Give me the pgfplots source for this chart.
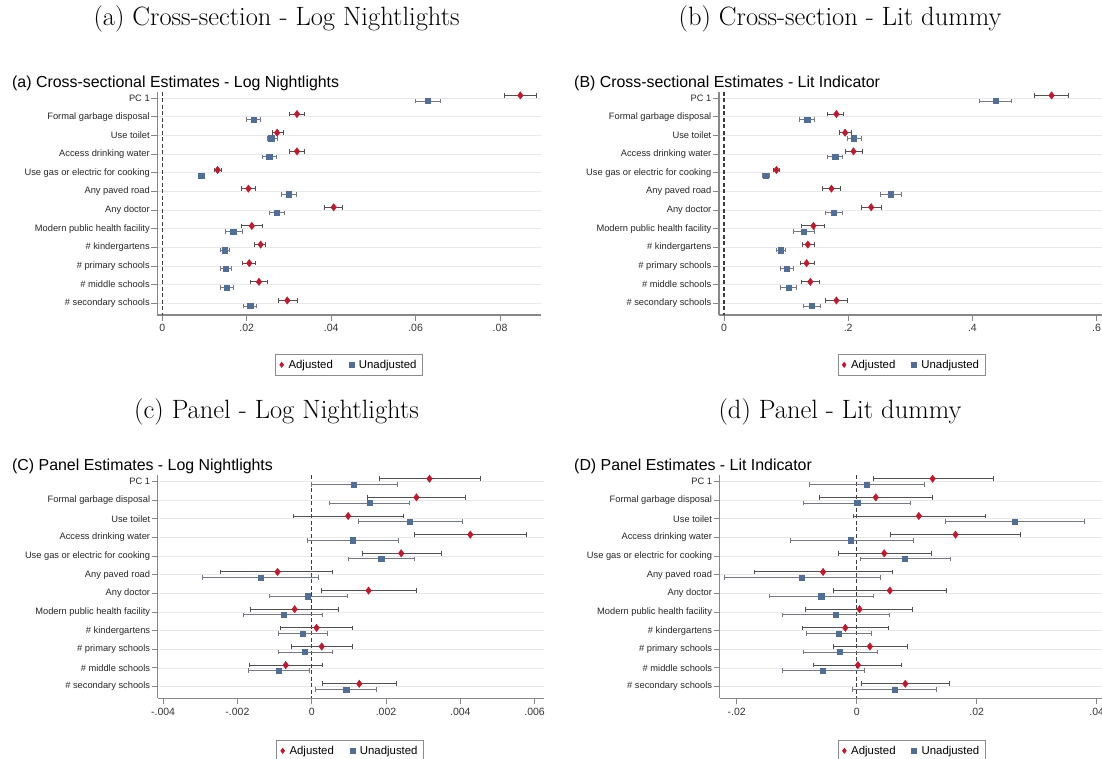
\documentclass[border=0pt]{standalone}
\usepackage{fontspec}
\usepackage{pgfplots}
\usepackage{pgfplotstable}
\pgfplotsset{compat=1.18}
\newfontfamily\arial{Liberation Sans}

\definecolor{adjred}{RGB}{190,25,45}
\definecolor{unadjblue}{RGB}{80,110,150}
\definecolor{ciadj}{RGB}{80,80,80}
\definecolor{ciunadj}{RGB}{115,120,130}
\definecolor{gridgray}{RGB}{232,232,232}
\definecolor{axisgray}{RGB}{135,135,135}
\definecolor{zerogray}{RGB}{60,60,60}

% r = row (1 = PC 1), a* = adjusted estimate and 95% CI, u* = unadjusted
\pgfplotstableread{
r ab alo ahi ub ulo uhi
1 0.0848 0.0811 0.0885 0.0629 0.0600 0.0658
2 0.0319 0.0300 0.0336 0.0216 0.0200 0.0232
3 0.0272 0.0260 0.0287 0.0258 0.0248 0.0272
4 0.0319 0.0300 0.0337 0.0253 0.0238 0.0270
5 0.0131 0.01225 0.0139 0.0092 0.0085 0.0099
6 0.0204 0.0188 0.0221 0.0299 0.0281 0.0318
7 0.0406 0.0384 0.0427 0.0271 0.0254 0.0289
8 0.0212 0.0188 0.0237 0.0168 0.0149 0.0189
9 0.0233 0.0219 0.0245 0.0148 0.0138 0.0158
10 0.0206 0.0189 0.0221 0.0150 0.0138 0.0163
11 0.0229 0.0208 0.0249 0.0153 0.0137 0.0168
12 0.0296 0.0275 0.0320 0.0208 0.0192 0.0224
}\tabA

\pgfplotstableread{
r ab alo ahi ub ulo uhi
1 0.5275 0.500 0.555 0.438 0.411 0.462
2 0.181 0.167 0.193 0.134 0.122 0.145
3 0.195 0.186 0.205 0.209 0.199 0.221
4 0.2085 0.195 0.223 0.179 0.167 0.191
5 0.0844 0.079 0.090 0.0674 0.062 0.073
6 0.173 0.159 0.188 0.269 0.252 0.286
7 0.237 0.222 0.253 0.177 0.163 0.191
8 0.144 0.125 0.162 0.128 0.111 0.146
9 0.135 0.126 0.145 0.0907 0.084 0.0986
10 0.133 0.123 0.145 0.101 0.0907 0.112
11 0.139 0.125 0.154 0.104 0.0907 0.117
12 0.181 0.164 0.198 0.141 0.128 0.155
}\tabB

\pgfplotstableread{
r ab alo ahi ub ulo uhi
1 0.00317 0.00181 0.00455 0.00114 0.00000 0.00231
2 0.00282 0.00151 0.00414 0.00156 0.00048 0.00262
3 0.00098 -0.00048 0.00246 0.00263 0.00125 0.00405
4 0.00427 0.00277 0.00578 0.00110 -0.00011 0.00234
5 0.00241 0.00137 0.00349 0.00187 0.00098 0.00277
6 -0.00092 -0.00245 0.00057 -0.00137 -0.00293 0.00018
7 0.00153 0.00025 0.00282 -0.00010 -0.00115 0.00096
8 -0.00046 -0.00165 0.00073 -0.00076 -0.00184 0.00029
9 0.00013 -0.00084 0.00109 -0.00025 -0.00091 0.00042
10 0.00027 -0.00055 0.00109 -0.00018 -0.00091 0.00056
11 -0.00070 -0.00168 0.00029 -0.00089 -0.00171 -0.00007
12 0.00128 0.00029 0.00227 0.00093 0.00011 0.00175
}\tabC

\pgfplotstableread{
r ab alo ahi ub ulo uhi
1 0.01265 0.0027 0.0228 0.00165 -0.0079 0.01135
2 0.00318 -0.0062 0.01265 0.0001 -0.0089 0.0089
3 0.01035 -0.0005 0.0214 0.0263 0.0148 0.0379
4 0.01647 0.00565 0.0272 -0.00094 -0.0111 0.0094
5 0.00459 -0.0031 0.0124 0.00806 0.0006 0.0156
6 -0.0056 -0.0171 0.0060 -0.0091 -0.0221 0.0040
7 0.00553 -0.0039 0.0150 -0.0059 -0.0145 0.0027
8 0.00047 -0.0085 0.0092 -0.0035 -0.0124 0.0055
9 -0.0019 -0.0091 0.0052 -0.0030 -0.0084 0.0025
10 0.0022 -0.0039 0.0085 -0.0028 -0.0089 0.0035
11 0.0002 -0.0072 0.0075 -0.0056 -0.0124 0.0013
12 0.0081 0.0008 0.0154 0.0063 -0.0007 0.0132
}\tabD

\pgfplotsset{
  coefpanel/.style={
    scale only axis, height=223.3pt, anchor=south west,
    y dir=reverse, ymin=0.65, ymax=12.63,
    ytick={1,...,12},
    yticklabels={PC 1, Formal garbage disposal, Use toilet, Access drinking water,
      Use gas or electric for cooking, Any paved road, Any doctor,
      Modern public health facility, \# kindergartens, \# primary schools,
      \# middle schools, \# secondary schools},
    scaled x ticks=false,
    axis x line*=bottom, axis y line*=left,
    axis line style={axisgray, line width=1.1pt},
    ymajorgrids, grid style={gridgray, line width=0.8pt},
    tick style={axisgray, line width=0.9pt},
    tick align=outside, major tick length=6pt,
    yticklabel style={font=\arial\fontsize{9.3}{10}\selectfont, text=black!85, inner sep=1.5pt},
    xticklabel style={font=\arial\fontsize{10.5}{11}\selectfont, text=black!80},
    legend columns=2,
    legend style={anchor=north, draw=black!45, line width=0.7pt,
      font=\arial\fontsize{11.4}{12}\selectfont, inner xsep=4pt, inner ysep=3.5pt,
      /tikz/every odd column/.append style={column sep=3pt},
      /tikz/every even column/.append style={column sep=14pt}},
    legend cell align=left,
    legend image code/.code={\draw[##1, mark size=2.5pt] plot coordinates {(2.5pt,0pt)};},
  },
  adjusted/.style={only marks, mark=diamond*, mark size=3.7pt, color=adjred,
    mark options={fill=adjred, draw=adjred},
    error bars/x dir=both, error bars/x explicit,
    error bars/error mark=|,
    error bars/error bar style={ciadj, line width=0.9pt},
    error bars/error mark options={ciadj, line width=0.8pt, mark size=2.3pt}},
  unadjusted/.style={only marks, mark=square*, mark size=2.6pt, color=unadjblue,
    mark options={fill=unadjblue, draw=unadjblue},
    error bars/x dir=both, error bars/x explicit,
    error bars/error mark=|,
    error bars/error bar style={ciunadj, line width=0.9pt},
    error bars/error mark options={ciunadj, line width=0.8pt, mark size=2.3pt}},
  zeroline/.style={zerogray, line width=1.1pt, dash pattern=on 4pt off 2.5pt, forget plot},
}

\newcommand\captfont{\fontsize{26.5}{30}\selectfont}
\newcommand\titlefont{\arial\fontsize{15.9}{18}\selectfont}

\begin{document}
\begin{tikzpicture}
\path[use as bounding box] (0pt,0pt) rectangle (1102pt,-759pt);

% sub-figure captions
\node[anchor=base, font=\captfont] at (276.6pt,-26pt) {(a) Cross-section - Log Nightlights};
\node[anchor=base, font=\captfont] at (840pt,-26pt) {(b) Cross-section - Lit dummy};
\node[anchor=base, font=\captfont] at (276.6pt,-418pt) {(c) Panel - Log Nightlights};
\node[anchor=base, font=\captfont] at (840pt,-418pt) {(d) Panel - Lit dummy};

% graph titles
\node[anchor=base west, font=\titlefont, inner sep=0pt] at (12pt,-87.4pt) {(a) Cross-sectional Estimates - Log Nightlights};
\node[anchor=base west, font=\titlefont, inner sep=0pt] at (574pt,-87.4pt) {(B) Cross-sectional Estimates - Lit Indicator};
\node[anchor=base west, font=\titlefont, inner sep=0pt] at (12pt,-470.7pt) {(C) Panel Estimates - Log Nightlights};
\node[anchor=base west, font=\titlefont, inner sep=0pt] at (574pt,-470.7pt) {(D) Panel Estimates - Lit Indicator};

% (a)
\begin{axis}[coefpanel, at={(157.4pt,-315pt)}, width=383.6pt,
  xmin=-0.00116, xmax=0.0897,
  xtick={0,0.02,0.04,0.06,0.08}, xticklabels={0,.02,.04,.06,.08},
  legend style={at={(0.5,-0.175)}}]
  \addplot[zeroline] coordinates {(0,0.65) (0,12.63)};
  \addplot[adjusted] table[x=ab, y expr=\thisrow{r}-0.15,
    x error plus expr=\thisrow{ahi}-\thisrow{ab},
    x error minus expr=\thisrow{ab}-\thisrow{alo}] {\tabA};
  \addlegendentry{Adjusted}
  \addplot[unadjusted] table[x=ub, y expr=\thisrow{r}+0.15,
    x error plus expr=\thisrow{uhi}-\thisrow{ub},
    x error minus expr=\thisrow{ub}-\thisrow{ulo}] {\tabA};
  \addlegendentry{Unadjusted}
\end{axis}

% (b)
\begin{axis}[coefpanel, at={(719pt,-315pt)}, width=390pt,
  xmin=-0.00805, xmax=0.62,
  xtick={0,0.2,0.4,0.6}, xticklabels={0,.2,.4,.6},
  legend style={at={(0.494,-0.175)}}]
  \addplot[zeroline] coordinates {(0,0.65) (0,12.63)};
  \addplot[adjusted] table[x=ab, y expr=\thisrow{r}-0.15,
    x error plus expr=\thisrow{ahi}-\thisrow{ab},
    x error minus expr=\thisrow{ab}-\thisrow{alo}] {\tabB};
  \addlegendentry{Adjusted}
  \addplot[unadjusted] table[x=ub, y expr=\thisrow{r}+0.15,
    x error plus expr=\thisrow{uhi}-\thisrow{ub},
    x error minus expr=\thisrow{ub}-\thisrow{ulo}] {\tabB};
  \addlegendentry{Unadjusted}
\end{axis}

% (c)
\begin{axis}[coefpanel, at={(157.8pt,-698.3pt)}, width=385.8pt,
  xmin=-0.004143, xmax=0.006242,
  xtick={-0.004,-0.002,0,0.002,0.004,0.006}, xticklabels={-.004,-.002,0,.002,.004,.006},
  legend style={at={(0.4987,-0.187)}}]
  \addplot[zeroline] coordinates {(0,0.65) (0,12.63)};
  \addplot[adjusted] table[x=ab, y expr=\thisrow{r}-0.15,
    x error plus expr=\thisrow{ahi}-\thisrow{ab},
    x error minus expr=\thisrow{ab}-\thisrow{alo}] {\tabC};
  \addlegendentry{Adjusted}
  \addplot[unadjusted] table[x=ub, y expr=\thisrow{r}+0.15,
    x error plus expr=\thisrow{uhi}-\thisrow{ub},
    x error minus expr=\thisrow{ub}-\thisrow{ulo}] {\tabC};
  \addlegendentry{Unadjusted}
\end{axis}

% (d)
\begin{axis}[coefpanel, at={(719.7pt,-698.3pt)}, width=389pt,
  xmin=-0.02283, xmax=0.042,
  xtick={-0.02,0,0.02,0.04}, xticklabels={-.02,0,.02,.04},
  legend style={at={(0.494,-0.187)}}]
  \addplot[zeroline] coordinates {(0,0.65) (0,12.63)};
  \addplot[adjusted] table[x=ab, y expr=\thisrow{r}-0.15,
    x error plus expr=\thisrow{ahi}-\thisrow{ab},
    x error minus expr=\thisrow{ab}-\thisrow{alo}] {\tabD};
  \addlegendentry{Adjusted}
  \addplot[unadjusted] table[x=ub, y expr=\thisrow{r}+0.15,
    x error plus expr=\thisrow{uhi}-\thisrow{ub},
    x error minus expr=\thisrow{ub}-\thisrow{ulo}] {\tabD};
  \addlegendentry{Unadjusted}
\end{axis}
\end{tikzpicture}
\end{document}
